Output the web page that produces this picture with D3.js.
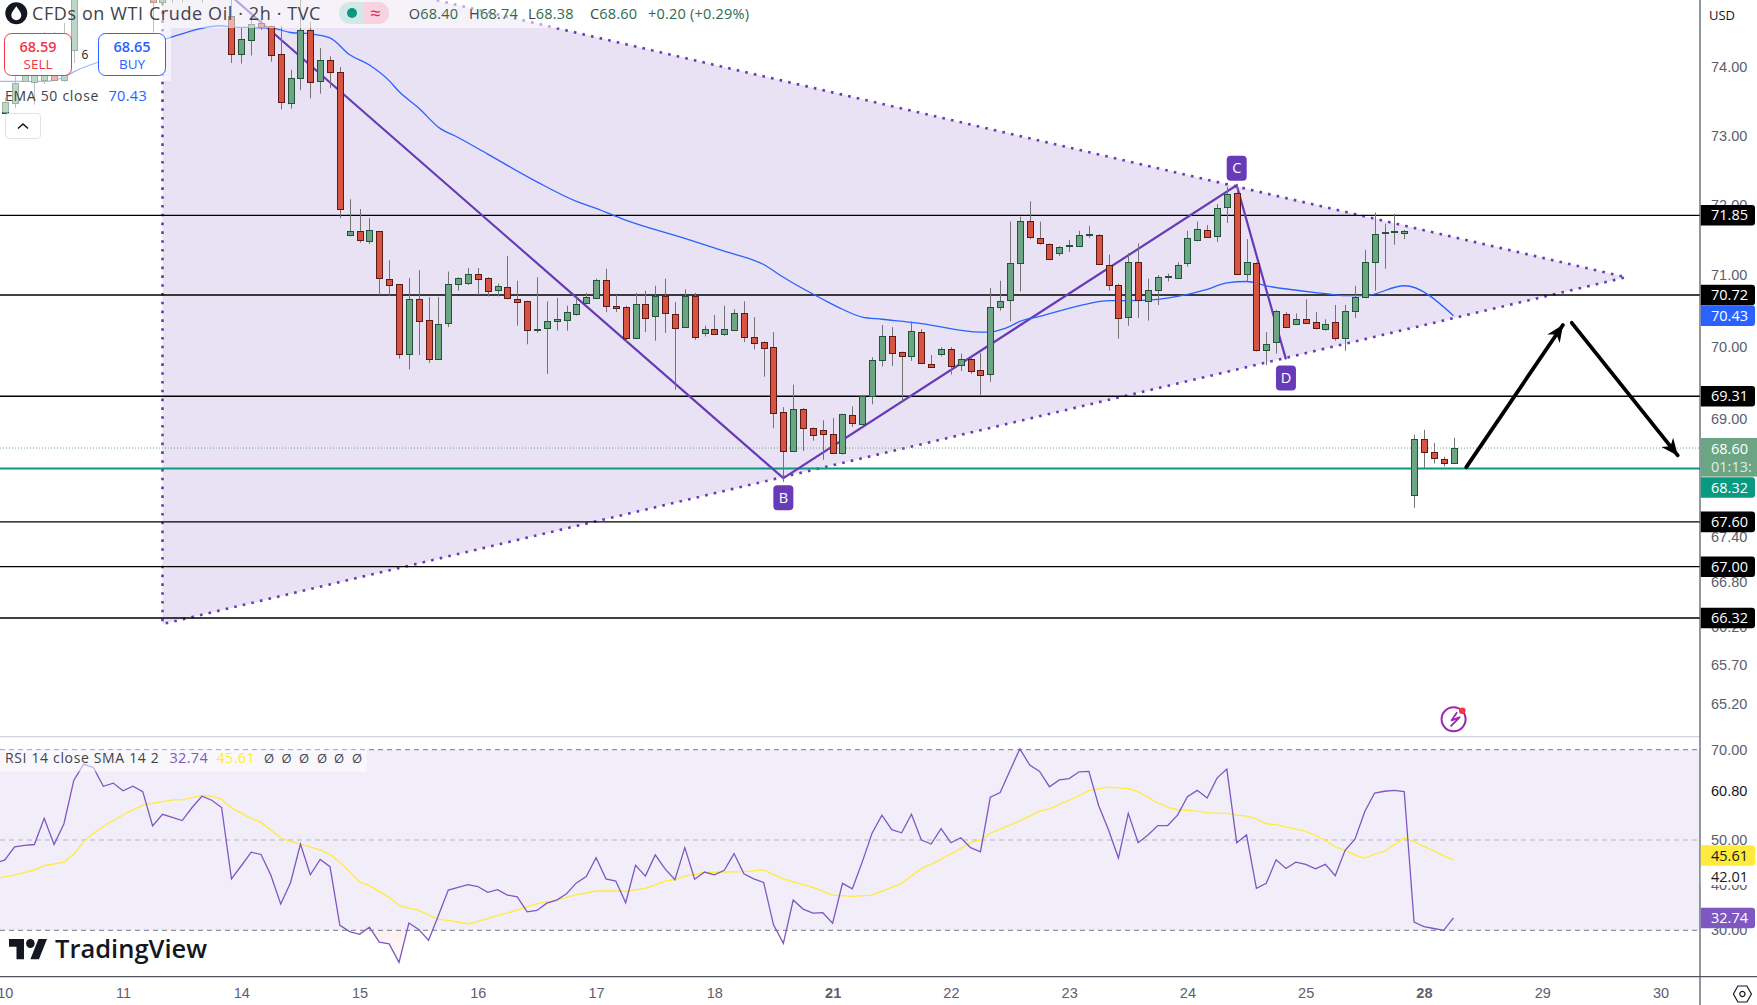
<!DOCTYPE html>
<html><head><meta charset="utf-8">
<script src="https://cdn.jsdelivr.net/npm/d3@7/dist/d3.min.js"></script>
<style>
html,body{margin:0;padding:0;background:#fff;overflow:hidden}
svg{display:block;font-family:"Open Sans","Noto Sans",sans-serif}
</style></head><body><svg id="c" width="1757" height="1005"></svg>
<script>
// ---- candles (2h bars) ----
const opens=[
73.33,73.48,73.80,73.77,73.80,73.88,73.81,74.25,75.5,75.6,
75.4,75.7,75.5,75.4,75.6,75.4,74.96,75.3,75.2,75.3,
75.4,75.2,75.3,74.75,74.19,74.41,74.65,74.60,74.19,73.48,
73.84,74.55,73.79,74.10,73.92,71.56,71.62,71.49,71.62,70.94,
70.87,69.89,70.67,70.37,69.83,70.33,70.87,70.88,71.01,70.96,
70.78,70.83,70.67,70.63,70.23,70.25,70.36,70.37,70.46,70.61,
70.68,70.93,70.56,70.55,70.13,70.60,70.43,70.71,70.46,70.28,
70.71,70.18,70.25,70.18,70.23,70.47,70.13,70.06,69.99,69.09,
68.56,69.14,68.88,68.84,68.79,68.52,69.05,68.94,69.31,69.81,
70.15,69.92,69.86,70.20,69.75,69.89,69.96,69.73,69.82,69.67,
69.61,70.54,70.65,71.18,71.77,71.52,71.44,71.32,71.40,71.42,
71.56,71.57,71.15,70.86,70.40,71.18,70.64,70.80,70.98,70.96,
71.16,71.50,71.64,71.55,71.96,72.17,71.01,71.17,69.95,70.05,
70.46,70.32,70.39,70.34,70.25,70.34,70.11,70.50,70.68,71.18,
71.59,71.60,71.59,67.96,68.72,68.54,68.45,68.40];
const highs=[
73.55,73.96,74.10,74.33,74.52,74.52,74.65,75.7,75.9,76.0,
75.8,76.0,75.8,75.7,75.9,75.6,75.5,75.6,75.5,75.6,
75.6,75.5,75.5,75.0,74.59,74.81,74.70,74.61,74.61,73.96,
75.05,74.67,74.28,74.16,74.00,72.08,71.94,71.81,71.62,71.21,
70.87,70.96,71.07,70.69,70.69,71.05,70.97,71.10,71.10,70.97,
70.88,71.27,70.92,70.64,70.97,70.63,70.68,70.57,70.68,70.75,
70.95,71.09,70.72,70.57,70.75,70.78,70.85,70.95,70.62,70.80,
70.75,70.29,70.44,70.57,70.52,70.63,70.41,70.07,70.20,69.16,
69.47,69.15,68.88,68.98,69.01,69.07,69.17,69.33,69.85,70.30,
70.27,69.93,70.35,70.24,69.88,69.99,69.99,69.90,69.86,69.91,
70.82,70.92,71.76,71.83,72.05,71.76,71.45,71.41,71.50,71.63,
71.70,71.58,71.29,70.88,71.31,71.45,70.95,71.00,71.02,71.18,
71.63,71.76,71.71,72.01,72.26,72.30,71.51,71.18,70.20,70.51,
70.48,70.46,70.66,70.48,70.38,70.58,70.58,70.85,71.36,71.89,
71.73,71.87,71.64,68.78,68.85,68.67,68.48,68.74];
const lows=[
73.33,73.40,73.78,73.45,73.75,73.79,73.78,74.06,75.2,75.3,
75.2,75.4,75.2,75.2,75.3,74.51,74.9,74.95,74.96,75.1,
74.95,75.1,75.1,74.06,74.05,74.17,74.55,74.08,73.38,73.39,
73.66,73.54,73.61,73.69,71.81,71.55,71.46,71.44,70.72,70.71,
69.83,69.68,69.88,69.77,69.81,70.27,70.78,70.86,70.72,70.70,
70.70,70.66,70.29,70.03,70.19,69.62,70.22,70.22,70.43,70.61,
70.68,70.48,70.48,70.05,70.13,70.20,70.08,70.19,69.40,70.27,
70.09,70.14,70.17,70.15,70.23,70.06,69.96,69.58,68.87,68.14,
68.55,68.56,68.70,68.44,68.52,68.51,68.89,68.93,69.20,69.72,
69.73,69.24,69.80,69.76,69.70,69.86,69.61,69.66,69.62,69.33,
69.51,70.50,70.35,70.77,71.51,71.43,71.22,71.27,71.33,71.40,
71.53,71.15,70.78,70.11,70.29,70.40,70.36,70.58,70.91,70.95,
71.12,71.48,71.53,71.47,71.74,71.00,70.91,69.93,69.74,69.90,
70.27,70.31,70.32,70.24,70.22,70.08,69.94,70.40,70.68,70.78,
71.09,71.43,71.51,67.79,68.32,68.39,68.35,68.38];
const closes=[
73.49,73.77,73.93,74.01,73.88,73.80,73.88,75.5,75.6,75.4,
75.7,75.5,75.4,75.6,75.5,74.96,75.3,75.2,75.3,75.4,
75.2,75.3,75.2,74.19,74.41,74.64,74.59,74.17,73.48,73.84,
74.55,73.79,74.10,73.92,71.93,71.62,71.49,71.64,70.95,70.85,
69.89,70.66,70.36,69.82,70.32,70.88,70.96,71.01,70.94,70.77,
70.84,70.67,70.63,70.23,70.25,70.35,70.39,70.48,70.60,70.69,
70.93,70.56,70.53,70.12,70.60,70.40,70.71,70.47,70.26,70.71,
70.13,70.24,70.18,70.25,70.47,70.13,70.04,69.97,69.08,68.56,
69.14,68.88,68.78,68.78,68.53,69.06,68.94,69.32,69.81,70.15,
69.91,69.86,70.21,69.77,69.71,69.96,69.73,69.82,69.65,69.60,
70.55,70.63,71.17,71.77,71.54,71.45,71.23,71.40,71.42,71.57,
71.58,71.16,70.87,70.39,71.18,70.65,70.79,70.98,70.99,71.15,
71.52,71.65,71.54,71.95,72.15,71.02,71.18,69.95,70.04,70.49,
70.28,70.39,70.33,70.25,70.32,70.11,70.49,70.69,71.18,71.58,
71.61,71.62,71.62,68.72,68.54,68.46,68.39,68.60];
// ---- EMA 50 (bar, value) ----
const emaBars=[-1,4,6,7,10,16,22,23,27,29,31,33,35,37,39,40,42,44,46,49,54,58,60,63,69,73,77,79,83,85,87,89,93,99,100,101,102,103,105,110,112,114,117,119,122,124,126,128,134,136,138,142,147];
const emaVals=[73.79,73.79,73.85,73.93,74.10,74.40,74.61,74.59,74.58,74.51,74.49,74.43,74.18,74.03,73.80,73.64,73.40,73.12,72.97,72.73,72.33,72.05,71.95,71.78,71.52,71.34,71.15,70.97,70.66,70.52,70.41,70.38,70.32,70.20,70.20,70.23,70.28,70.35,70.42,70.60,70.64,70.64,70.66,70.70,70.80,70.89,70.91,70.85,70.74,70.71,70.71,70.85,70.43];
// ---- RSI 14, one value per bar from bar -1 ----
const rsiVals=[44.8,45.6,48.5,48.8,49.0,54.8,49.0,53.6,63.2,66.8,66.0,
61.9,62.6,60.9,61.9,60.7,53.1,55.7,55.0,54.3,57.2,
59.7,58.8,57.2,41.4,44.3,47.3,46.8,42.2,35.8,40.6,
49.1,42.3,45.7,44.1,31.1,29.7,29.1,30.7,27.4,27.0,
22.9,31.6,30.2,27.8,33.3,38.9,39.5,40.1,39.7,38.4,
39.0,37.8,37.4,34.1,34.4,36.0,36.7,38.1,40.5,41.9,
46.1,41.4,40.9,36.1,44.4,42.0,46.7,43.6,41.2,48.3,
41.3,42.9,42.3,43.3,47.0,42.5,41.4,40.6,31.2,27.1,
36.7,34.7,33.8,33.9,31.6,40.4,39.2,45.1,51.5,55.5,
52.3,51.6,55.7,50.0,49.1,52.5,49.4,50.5,48.3,47.4,
59.5,60.5,65.4,70.2,66.6,65.2,61.8,63.3,63.6,65.1,
65.2,57.6,52.2,46.0,55.9,49.4,51.1,53.2,53.2,55.5,
59.6,61.0,59.3,63.7,65.7,49.4,51.1,39.3,40.4,45.6,
43.7,45.1,44.6,43.6,44.6,42.1,47.7,50.2,56.3,60.4,
60.8,61.0,60.7,31.8,30.8,30.4,30.0,32.74];
// ---- RSI SMA 14 (bar, value) ----
const smaBars=[-1,1,3,4,6,7,8,9,10,12,14,15,17,18,20,21,22,23,25,26,27,28,29,30,32,33,34,36,37,39,40,41,42,44,45,47,49,50,51,52,54,56,58,60,61,63,65,67,68,69,71,75,77,79,80,82,84,86,88,91,93,94,96,98,99,100,102,104,105,106,109,110,111,112,114,115,117,118,119,121,122,124,125,126,127,128,129,131,132,133,134,135,136,137,138,139,140,142,143,144,145,146,147];
const smaVals=[41.5,42.2,43.4,44.3,45.1,46.9,49.65,51.5,53.0,55.6,57.7,58.1,58.9,58.9,59.9,59.7,59.0,57.1,54.8,53.9,52.2,50.5,49.65,49.1,47.8,46.8,45.1,40.7,39.9,37.3,35.5,34.9,34.4,32.4,32.2,31.4,32.6,33.3,33.8,34.5,35.9,36.7,37.9,38.7,38.7,38.65,39.3,40.9,41.2,42.0,42.8,43.0,43.4,41.4,40.7,39.5,37.8,37.5,37.8,40.4,43.7,44.6,46.9,49.4,50.0,51.5,53.3,55.3,56.4,56.9,59.8,60.95,61.4,61.7,61.4,60.7,58.2,57.3,56.7,56.4,56.0,55.9,55.5,55.3,54.7,53.6,53.4,52.4,51.9,51.0,49.9,48.5,47.7,46.7,46.0,46.9,47.5,50.5,49.6,48.6,47.6,46.55,45.61];
// ---- axes ----
const priceTicks=[74,73,72,71,70,69,67.4,66.8,66.2,65.7,65.2];
const rsiTicks=[70,50,40,30];
const rsiDarkTicks=[60.8];
const timeBars=[0,12,24,36,48,60,72,84,96,108,120,132,144,156,168];
const timeLabels=["10","11","14","15","16","17","18","21","22","23","24","25","28","29","30"];
const boldTimeLabels=["21","28"];
// ---- drawings ----
const levels=[71.85,70.72,69.31,67.60,67.00,66.32];
const supportLevel=68.32, lastPrice=68.60, emaLast=70.43, rsiLast=32.74, smaLast=45.61;
const triangleBars=[16,164.5,16], trianglePrices=[75.95,70.97,66.24];
const abcdBars=[16,79,125,130], abcdPrices=[75.95,68.19,72.28,69.82], abcdNames=["A","B","C","D"];
const arrowUpBars=[148.3,158.1], arrowUpPrices=[68.34,70.30];
const arrowDownBars=[159,169.75], arrowDownPrices=[70.33,68.50];
const ohlcTexts=["68.40","68.74","68.38","68.60"], ohlcLetters=["O","H","L","C"], changeTexts=["+0.20","(+0.29%)"];

const W=1757,AX=1700,PB=736.7,TB=976.7;
const x=d3.scaleLinear().domain([0,147]).range([4.8,1453.5]);
const y=d3.scaleLog().domain([66.32,71.85]).range([618,215.3]);
const r=d3.scaleLinear().domain([30,70]).range([930.3,749.7]);
const svg=d3.select("#c");
const defs=svg.append("defs");
defs.append("clipPath").attr("id","cp").append("rect").attr("width",AX).attr("height",PB);
defs.append("clipPath").attr("id","cr").append("rect").attr("y",PB).attr("width",AX).attr("height",TB-PB);
defs.append("clipPath").attr("id","co").append("rect").attr("y",r(30)).attr("width",AX).attr("height",60);
const gr=defs.append("linearGradient").attr("id","pink").attr("x1",0).attr("x2",0).attr("y1",0).attr("y2",1);
gr.append("stop").attr("offset",0).attr("stop-color","#f23645").attr("stop-opacity",.1);
gr.append("stop").attr("offset",1).attr("stop-color","#f23645").attr("stop-opacity",0);
defs.append("marker").attr("id","ah").attr("viewBox","0 0 10 10").attr("refX",9.8).attr("refY",5)
  .attr("markerUnits","userSpaceOnUse").attr("markerWidth",17).attr("markerHeight",17).attr("orient","auto")
  .append("path").attr("d","M0 .6L10 5L0 9.4L3 5Z").attr("fill","#000");

svg.append("rect").attr("width",W).attr("height",1005).attr("fill","#fff");
const P=svg.append("g").attr("clip-path","url(#cp)");
const tri=triangleBars.map((b,i)=>[x(b),y(trianglePrices[i])]);
P.append("path").attr("d",d3.line()(tri)+"Z").attr("fill","#673ab7").attr("fill-opacity",.15)
 .attr("stroke","#673ab7").attr("stroke-width",2.6).attr("stroke-dasharray","2.6 6.2");
P.selectAll(".lv").data(levels).join("line").attr("x1",0).attr("x2",AX).attr("y1",d=>y(d)).attr("y2",d=>y(d)).attr("stroke","#000").attr("stroke-width",1.3);
P.append("line").attr("x1",0).attr("x2",AX).attr("y1",y(supportLevel)).attr("y2",y(supportLevel)).attr("stroke","#089981").attr("stroke-width",2);
P.append("line").attr("x1",0).attr("x2",AX).attr("y1",y(lastPrice)).attr("y2",y(lastPrice)).attr("stroke","#6ba583").attr("stroke-width",1).attr("stroke-dasharray","1 2");
P.append("path").attr("d",d3.line().x(d=>x(d[0])).y(d=>y(d[1]))(abcdBars.map((b,i)=>[b,abcdPrices[i]]))).attr("fill","none").attr("stroke","#673ab7").attr("stroke-width",2.2);
P.append("path").attr("d",d3.line().curve(d3.curveMonotoneX).x(d=>x(d[0])).y(d=>y(d[1]))(emaBars.map((b,i)=>[b,emaVals[i]]))).attr("fill","none").attr("stroke","#2962ff").attr("stroke-width",1.3);
// candles
const candles=opens.map((o,i)=>({i,o,h:highs[i],l:lows[i],c:closes[i]}));
const cg=P.append("g");
cg.selectAll(".w").data(candles).join("line").attr("x1",d=>Math.round(x(d.i))+.5).attr("x2",d=>Math.round(x(d.i))+.5)
  .attr("y1",d=>y(d.h)).attr("y2",d=>y(d.l)).attr("stroke","#737375").attr("stroke-width",1);
cg.selectAll(".b").data(candles).join("rect")
  .attr("x",d=>Math.round(x(d.i))-2.5).attr("width",6)
  .attr("y",d=>Math.round(y(Math.max(d.o,d.c)))+.5)
  .attr("height",d=>Math.max(1,Math.round(Math.abs(y(d.o)-y(d.c)))))
  .attr("fill",d=>d.c>=d.o?"#6ba583":"#d75442").attr("stroke",d=>d.c>=d.o?"#225437":"#5b1a13").attr("stroke-width",1);
// pattern labels
abcdNames.forEach((n,i)=>{
  const up=n==="C";
  const cy=y(abcdPrices[i])+(up?-17:(n==="D"?18.5:19.5));
  const g=P.append("g").attr("transform",`translate(${x(abcdBars[i])},${cy})`);
  g.append("rect").attr("x",-10).attr("y",-12.5).attr("width",20).attr("height",25).attr("rx",4).attr("fill","#673ab7");
  g.append("text").attr("text-anchor","middle").attr("y",5).attr("font-size",14.5).attr("fill","#fff").text(n);
});
// arrows
[[arrowUpBars,arrowUpPrices],[arrowDownBars,arrowDownPrices]].forEach(([b,p])=>{
  P.append("line").attr("x1",x(b[0])).attr("y1",y(p[0])).attr("x2",x(b[1])).attr("y2",y(p[1]))
   .attr("stroke","#000").attr("stroke-width",3.8).attr("stroke-linecap","round").attr("marker-end","url(#ah)");
});
// flash icon
const fl=svg.append("g").attr("transform","translate(1453.6,719.3)");
fl.append("circle").attr("r",12).attr("fill","none").attr("stroke","#9c27b0").attr("stroke-width",2);
fl.append("path").attr("d","M3.5 -7L-2 1L6 -2L-3 7").attr("fill","none").attr("stroke","#9c27b0").attr("stroke-width",1.8).attr("stroke-linejoin","round");
fl.append("circle").attr("cx",8.7).attr("cy",-8.6).attr("r",3.3).attr("fill","#f23645");
// header veils
const veil="rgba(255,255,255,.55)";
svg.append("rect").attr("width",755).attr("height",28).attr("fill",veil);
svg.append("rect").attr("y",28).attr("width",171).attr("height",53).attr("fill",veil);
svg.append("rect").attr("y",81).attr("width",153).attr("height",31).attr("fill",veil);
// header text
const tc="#3f424d", upc="#2f6b50";
const ic=svg.append("g").attr("transform","translate(16.3,13.3)");
ic.append("circle").attr("r",11).attr("fill","#131722");
ic.append("path").attr("d","M0 -7C2.8 -3 5 -0.8 5 2A5 5 0 0 1 -5 2C-5 -0.8 -2.8 -3 0 -7Z").attr("fill","#fff");
svg.append("text").attr("x",32).attr("y",20).attr("font-size",18).attr("letter-spacing",.6).attr("fill",tc).text("CFDs on WTI Crude Oil · 2h · TVC");
const pl=svg.append("g");
pl.append("rect").attr("x",339).attr("y",2).attr("width",50).attr("height",22).attr("rx",11).attr("fill","#d3e9e8");
pl.append("path").attr("d","M364 2H378a11 11 0 0 1 0 22H364Z").attr("fill","#f6d3df");
pl.append("circle").attr("cx",352).attr("cy",13).attr("r",5).attr("fill","#089981");
pl.append("text").attr("x",375.5).attr("y",19.5).attr("text-anchor","middle").attr("font-size",19).attr("fill","#e91e63").text("≈");
[408.7,469,528,590].forEach((px,i)=>{
  const t=svg.append("text").attr("x",px).attr("y",18.5).attr("font-size",14.5).attr("letter-spacing",.2);
  t.append("tspan").attr("fill",tc).text(ohlcLetters[i]);
  t.append("tspan").attr("fill",upc).text(ohlcTexts[i]);
});
[648,690].forEach((px,i)=>svg.append("text").attr("x",px).attr("y",18.5).attr("font-size",14.5).attr("letter-spacing",.2).attr("fill",upc).text(changeTexts[i]));
const box=(x0,c,v,t)=>{
  svg.append("rect").attr("x",x0+.5).attr("y",33.5).attr("width",67).attr("height",42).attr("rx",7).attr("fill","#fff").attr("stroke",c).attr("stroke-width",1);
  svg.append("text").attr("x",x0+34).attr("y",52).attr("text-anchor","middle").attr("font-size",14.5).attr("font-weight",600).attr("fill",c).text(v);
  svg.append("text").attr("x",x0+34).attr("y",69).attr("text-anchor","middle").attr("font-size",13.5).attr("fill",c).text(t);
};
box(4,"#f23645","68.59","SELL");
box(98,"#2962ff","68.65","BUY");
svg.append("text").attr("x",85).attr("y",58.5).attr("text-anchor","middle").attr("font-size",12).attr("fill","#131722").text("6");
svg.append("text").attr("x",5).attr("y",101).attr("font-size",14).attr("letter-spacing",.7).attr("fill",tc).text("EMA 50 close");
svg.append("text").attr("x",108.5).attr("y",101).attr("font-size",14.5).attr("letter-spacing",.3).attr("fill","#2962ff").text(emaLast.toFixed(2));
svg.append("rect").attr("x",5.5).attr("y",113.5).attr("width",35).attr("height",25).attr("rx",3).attr("fill","#fff").attr("stroke","#e0e3eb");
svg.append("path").attr("d","M18 128.5l5-4.5l5 4.5").attr("fill","none").attr("stroke","#131722").attr("stroke-width",1.6);

// ---- RSI pane ----
const R=svg.append("g").attr("clip-path","url(#cr)");
R.append("rect").attr("y",r(70)).attr("width",AX).attr("height",r(30)-r(70)).attr("fill","#7e57c2").attr("fill-opacity",.1);
R.append("path").attr("clip-path","url(#co)").attr("fill","url(#pink)")
 .attr("d",d3.area().x((d,i)=>x(i+36)).y0(r(30)).y1(d=>r(d))(rsiVals.slice(37,43)));
[[70,"#787b86"],[50,"#b8b5c2"],[30,"#787b86"]].forEach(([v,c])=>R.append("line").attr("x1",0).attr("x2",AX).attr("y1",r(v)).attr("y2",r(v)).attr("stroke",c).attr("stroke-width",1).attr("stroke-dasharray","5 4"));
R.append("path").attr("d",d3.line().x(d=>x(d[0])).y(d=>r(d[1]))(smaBars.map((b,i)=>[b,smaVals[i]]))).attr("fill","none").attr("stroke","#ffeb3b").attr("stroke-width",1.3);
R.append("path").attr("d",d3.line().x((d,i)=>x(i-1)).y(d=>r(d))(rsiVals)).attr("fill","none").attr("stroke","#7e57c2").attr("stroke-width",1.3);
svg.append("rect").attr("y",749.5).attr("width",367).attr("height",22).attr("fill",veil);
svg.append("text").attr("x",5).attr("y",762.5).attr("font-size",14).attr("letter-spacing",.65).attr("fill",tc).text("RSI 14 close SMA 14 2");
svg.append("text").attr("x",169.5).attr("y",762.5).attr("font-size",14.5).attr("letter-spacing",.3).attr("fill","#7e57c2").text(rsiLast.toFixed(2));
svg.append("text").attr("x",216.5).attr("y",762.5).attr("font-size",14.5).attr("letter-spacing",.3).attr("fill","#ffeb3b").text(smaLast.toFixed(2));
[269,286.6,304,322,339,357].forEach(px=>svg.append("text").attr("x",px).attr("y",762.5).attr("text-anchor","middle").attr("font-size",13).attr("fill",tc).text("Ø"));
// TradingView logo
const lg=svg.append("g").attr("transform","translate(9,934.5) scale(1.07,1.12)").attr("fill","#131722");
lg.append("path").attr("d","M14 22H7V11H0V4h14v18zM28 22h-8l7.5-18h8L28 22z");
lg.append("circle").attr("cx",20).attr("cy",8).attr("r",4);
svg.append("text").attr("x",55).attr("y",958).attr("font-size",25.5).attr("font-weight",600).attr("fill","#131722").text("TradingView");

// ---- panes' frame ----
svg.append("line").attr("x1",0).attr("x2",AX).attr("y1",PB).attr("y2",PB).attr("stroke","#d1d4dc").attr("stroke-width",1.2);
svg.append("rect").attr("x",AX).attr("width",W-AX).attr("height",1005).attr("fill","#fff");
svg.append("rect").attr("y",TB).attr("width",W).attr("height",1005-TB).attr("fill","#fff");
svg.append("line").attr("x1",0).attr("x2",W).attr("y1",TB).attr("y2",TB).attr("stroke","#50535e").attr("stroke-width",1.2);
svg.append("line").attr("x1",AX).attr("x2",AX).attr("y1",0).attr("y2",1005).attr("stroke","#50535e").attr("stroke-width",1.2);

// ---- axes ----
const style=fill=>g=>{g.select(".domain").remove();g.selectAll("text").attr("font-size",14.5).attr("fill",fill).attr("font-family","inherit");};
svg.append("g").attr("transform",`translate(${AX},0)`).call(d3.axisRight(y).tickValues(priceTicks).tickSize(0).tickPadding(11).tickFormat(d3.format(".2f"))).call(style("#5d606b"));
svg.append("g").attr("transform",`translate(${AX},0)`).call(d3.axisRight(r).tickValues(rsiTicks).tickSize(0).tickPadding(11).tickFormat(d3.format(".2f"))).call(style("#5d606b"));
svg.append("g").attr("transform",`translate(${AX},0)`).call(d3.axisRight(r).tickValues(rsiDarkTicks).tickSize(0).tickPadding(11).tickFormat(d3.format(".2f"))).call(style("#131722"));
svg.append("g").attr("transform",`translate(0,${TB})`).call(d3.axisBottom(x).tickValues(timeBars).tickSize(0).tickPadding(11).tickFormat((d,i)=>timeLabels[i])).call(style("#5d606b"))
  .selectAll("text").attr("font-weight",(d,i)=>boldTimeLabels.includes(timeLabels[i])?700:400);
svg.append("text").attr("x",1722).attr("y",19.5).attr("text-anchor","middle").attr("font-size",13).attr("fill","#131722").text("USD");
// badges
const badge=(cy,h,fill,fg,t)=>{
  svg.append("path").attr("d",`M${AX+.8} ${cy-h/2}H1752a3 3 0 0 1 3 3V${cy+h/2-3}a3 3 0 0 1 -3 3H${AX+.8}Z`).attr("fill",fill);
  svg.append("text").attr("x",1711).attr("y",cy+5).attr("font-size",14.5).attr("fill",fg).text(t);
};
levels.forEach(v=>badge(y(v),20.6,"#000","#fff",v.toFixed(2)));
badge(y(emaLast),20.6,"#2962ff","#fff",emaLast.toFixed(2));
badge(487.5,20.4,"#089981","#fff",supportLevel.toFixed(2));
svg.append("rect").attr("x",AX+.8).attr("y",438).attr("width",W-AX).attr("height",38.6).attr("fill","#6ba583");
svg.append("text").attr("x",1711).attr("y",454).attr("font-size",14.5).attr("fill","#fff").text(lastPrice.toFixed(2));
svg.append("text").attr("x",1711).attr("y",472).attr("font-size",14.5).attr("fill","#fff").attr("fill-opacity",.8).text("01:13:");
svg.append("rect").attr("x",AX+.8).attr("y",867).attr("width",W-AX-1).attr("height",18).attr("fill","#fff");
svg.append("text").attr("x",1711).attr("y",881.5).attr("font-size",14.5).attr("fill","#131722").text("42.01");
badge(855.5,20.6,"#ffeb3b","#131722",smaLast.toFixed(2));
badge(r(rsiLast),20.6,"#7e57c2","#fff",rsiLast.toFixed(2));
// settings icon
const st=svg.append("g").attr("transform","translate(1742.4,994)");
st.append("path").attr("d","M-9 0L-4.5 -8H4.5L9 0L4.5 8H-4.5Z").attr("fill","none").attr("stroke","#131722").attr("stroke-width",1.2);
st.append("circle").attr("r",2.6).attr("fill","none").attr("stroke","#131722").attr("stroke-width",1.2);
</script></body></html>
